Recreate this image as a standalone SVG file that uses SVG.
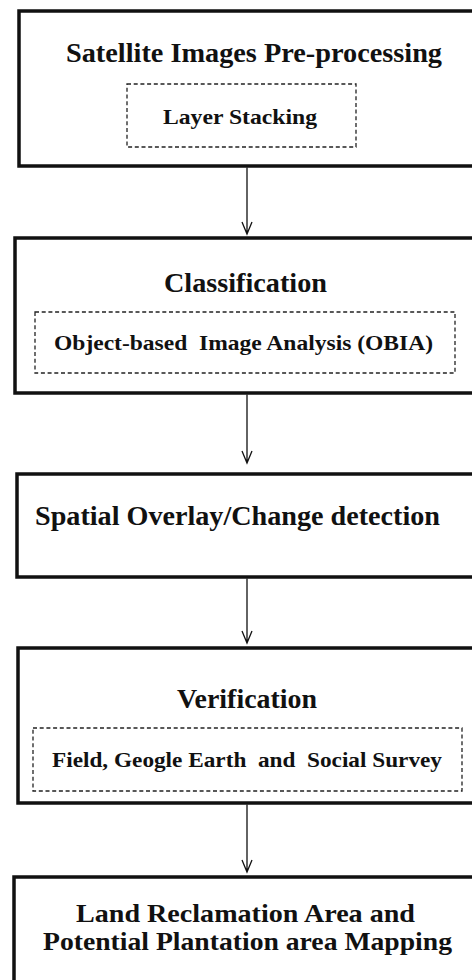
<svg xmlns="http://www.w3.org/2000/svg" width="472" height="980" viewBox="0 0 472 980">
<defs>
<style>
.box{fill:#fff;stroke:#111;stroke-width:3.5}
.dash{fill:none;stroke:#222;stroke-width:1.3;stroke-dasharray:4 2.7}
.t{font-family:"Liberation Serif","Times New Roman",serif;font-weight:bold;fill:#111;white-space:pre}
.big{font-size:27px}
.mid{font-size:25px}
.small{font-size:22px}
.conn{fill:none;stroke:#111;stroke-width:1.3}
</style>
</defs>
<rect width="472" height="980" fill="#fff"/>
<g id="node1">
<rect class="box" x="19" y="11" width="470" height="155"/>
<text class="t big" x="66" y="62" textLength="376" lengthAdjust="spacingAndGlyphs">Satellite Images Pre-processing</text>
<rect class="dash" x="127" y="84" width="229" height="63"/>
<text class="t small" x="163" y="124" textLength="154" lengthAdjust="spacingAndGlyphs">Layer Stacking</text>
</g>
<g id="node2">
<rect class="box" x="15" y="238" width="474" height="155"/>
<text class="t big" x="164" y="292" textLength="163" lengthAdjust="spacingAndGlyphs">Classification</text>
<rect class="dash" x="35" y="312" width="420" height="61"/>
<text class="t small" x="54" y="350" textLength="379" lengthAdjust="spacingAndGlyphs">Object-based  Image Analysis (OBIA)</text>
</g>
<g id="node3">
<rect class="box" x="17" y="474" width="472" height="103"/>
<text class="t big" x="35" y="525" textLength="405" lengthAdjust="spacingAndGlyphs">Spatial Overlay/Change detection</text>
</g>
<g id="node4">
<rect class="box" x="18" y="648" width="471" height="155"/>
<text class="t big" x="177" y="708" textLength="140" lengthAdjust="spacingAndGlyphs">Verification</text>
<rect class="dash" x="33" y="728" width="429" height="63"/>
<text class="t small" x="52" y="767" textLength="390" lengthAdjust="spacingAndGlyphs">Field, Geogle Earth  and  Social Survey</text>
</g>
<g id="node5">
<rect class="box" x="14" y="877" width="475" height="120"/>
<text class="t mid" x="76" y="922" textLength="339" lengthAdjust="spacingAndGlyphs">Land Reclamation Area and</text>
<text class="t mid" x="43" y="950" textLength="409" lengthAdjust="spacingAndGlyphs">Potential Plantation area Mapping</text>
</g>
<g id="connectors">
<path class="conn" d="M247 167.5V234M242 222L247 234L252 222"/>
<path class="conn" d="M247 394.5V463M242 451L247 463L252 451"/>
<path class="conn" d="M247 578.5V643M242 631L247 643L252 631"/>
<path class="conn" d="M247 804.5V872M242 860L247 872L252 860"/>
</g>
</svg>
